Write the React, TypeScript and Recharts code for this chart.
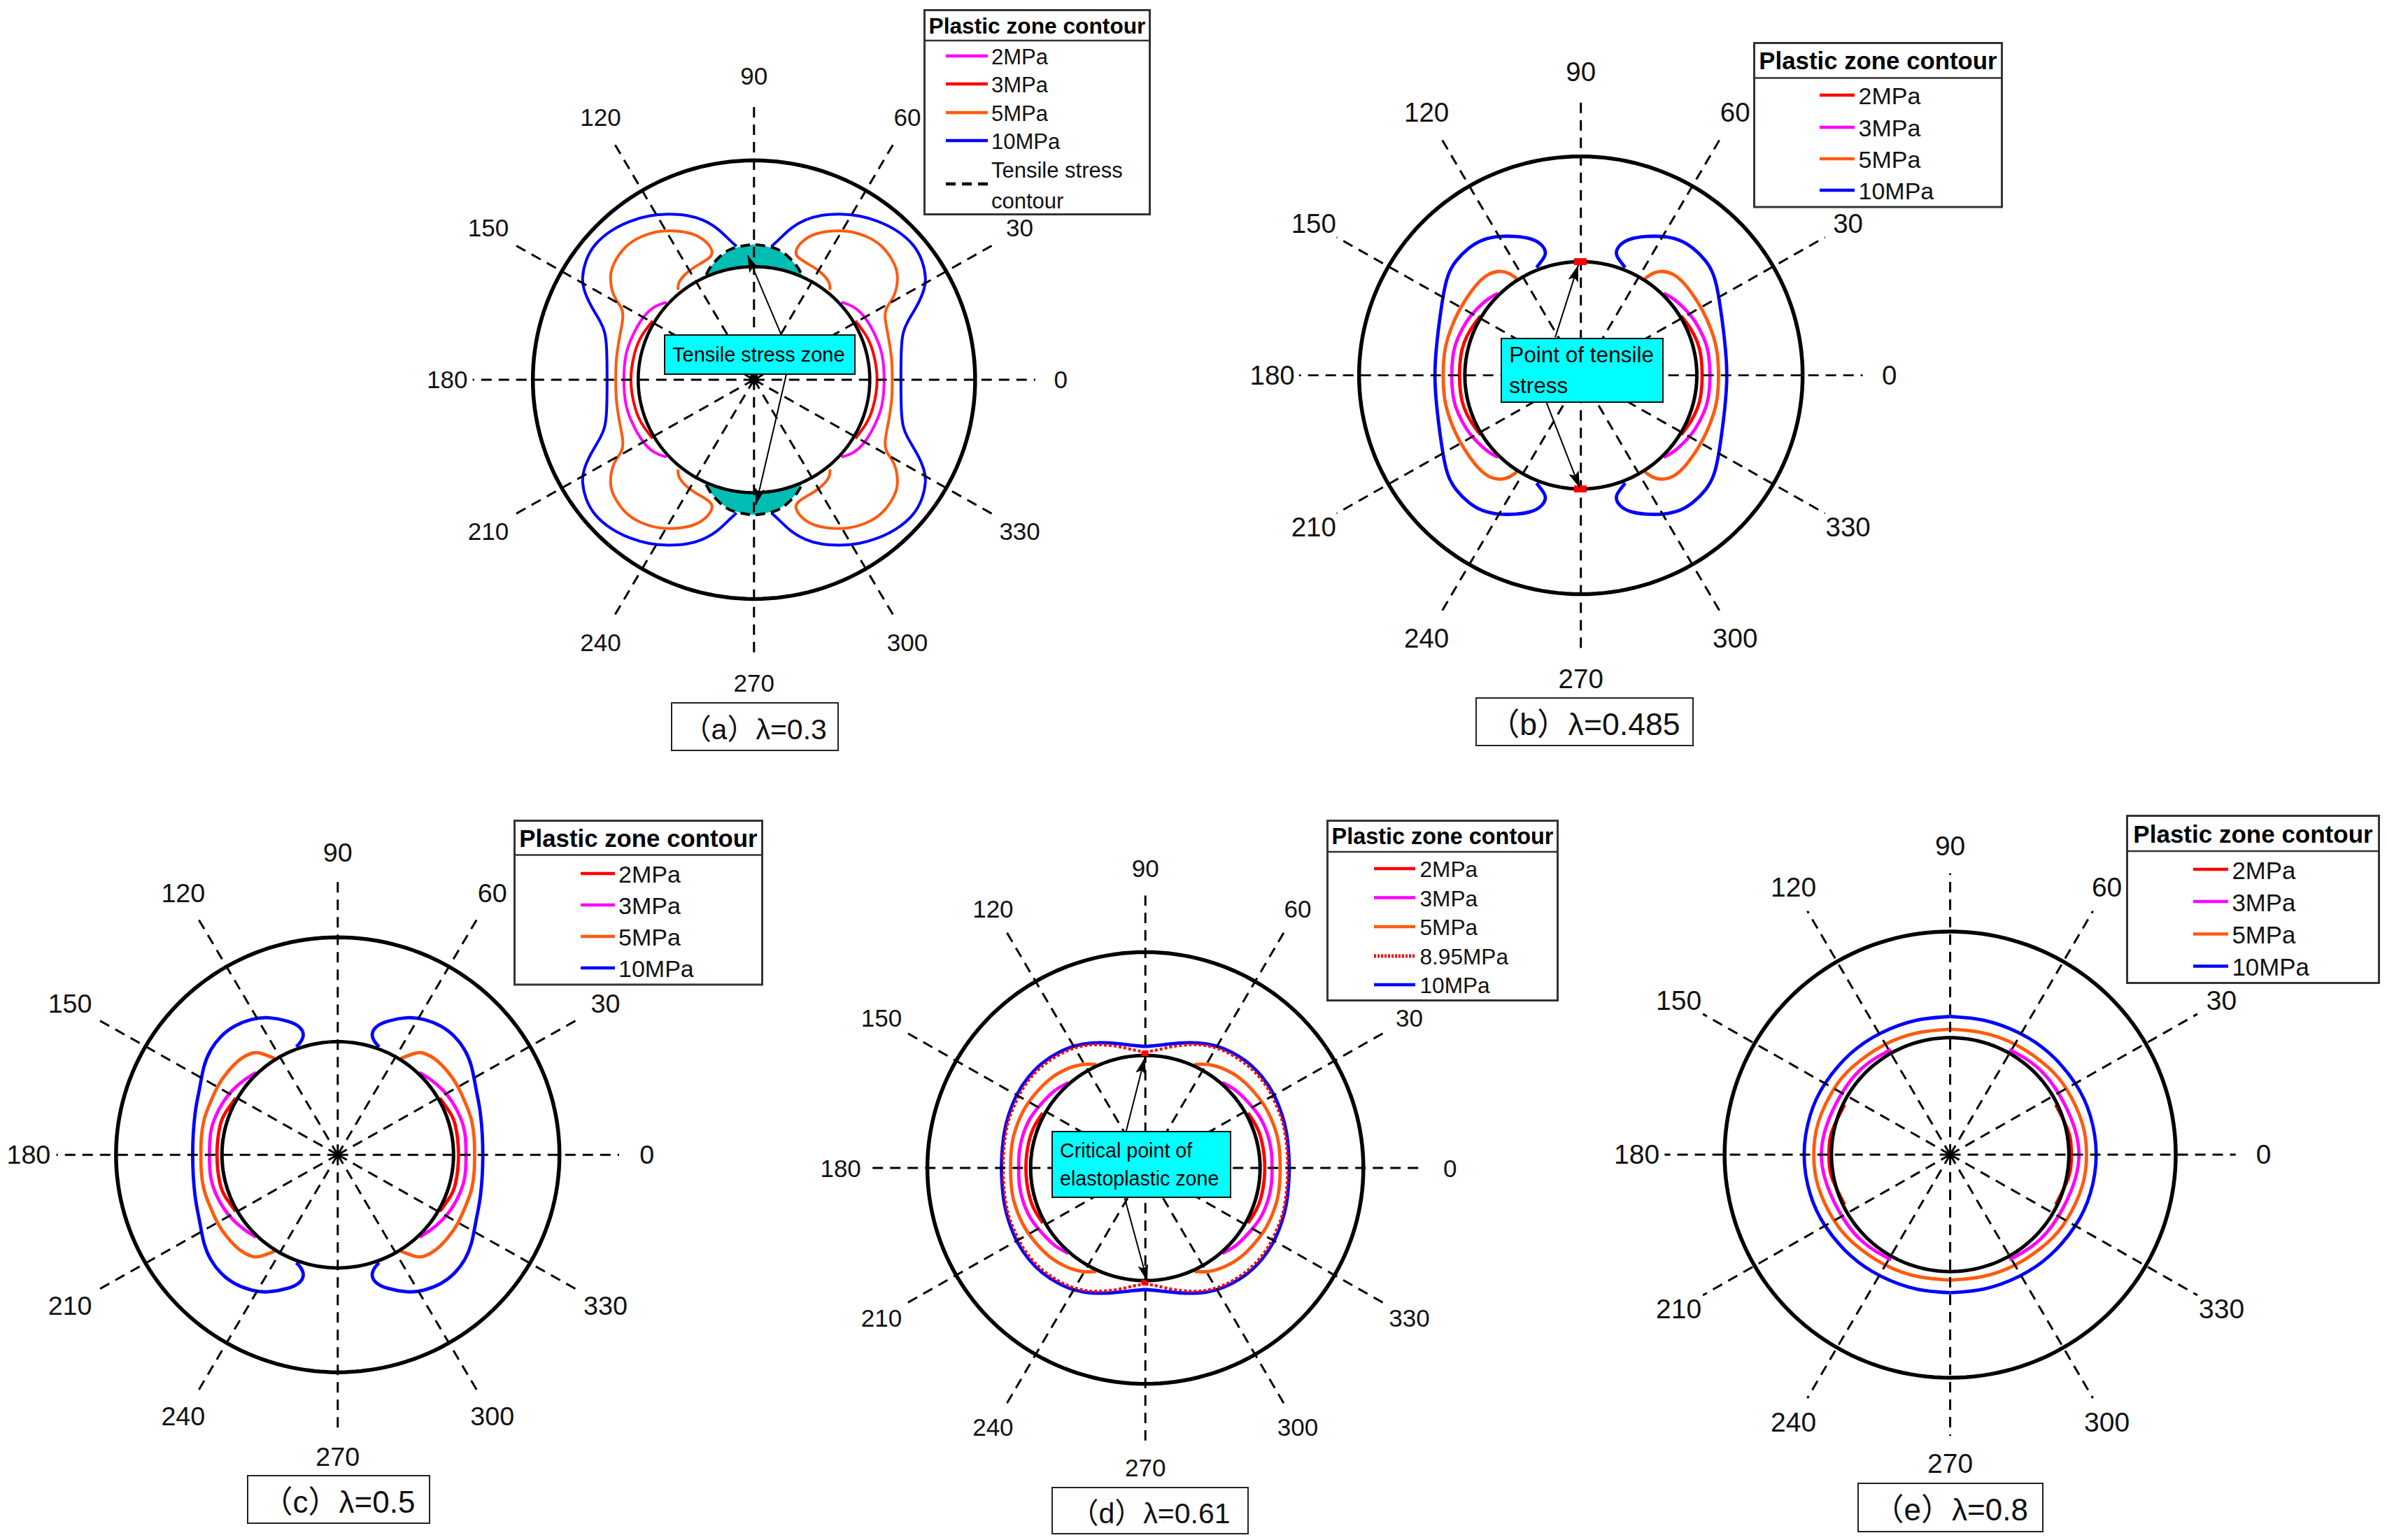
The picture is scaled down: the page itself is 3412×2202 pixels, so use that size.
import React from "react";
import { ScatterChart, Scatter, XAxis, YAxis, Legend } from "recharts";

type P = [number, number];

// Angle ticks of every polar panel
const angleTicks = [0, 30, 60, 90, 120, 150, 180, 210, 240, 270, 300, 330];

// Contours: upper-right quadrant, in multiples of the opening radius
const a2: P[] = [[0.755, 0.685], [0.866, 0.639], [0.967, 0.536], [1.047, 0.392], [1.104, 0.227], [1.124, 0]];
const a3: P[] = [[0.876, 0.52], [0.967, 0.392], [1.027, 0.247], [1.063, 0]];
const a5: P[] = [[0.655, 0.794], [0.645, 0.866], [0.564, 0.959], [0.463, 1.027], [0.383, 1.082], [0.363, 1.134], [0.403, 1.206], [0.504, 1.278], [0.645, 1.313], [0.806, 1.313], [0.967, 1.268], [1.108, 1.175], [1.208, 1.031], [1.239, 0.897], [1.208, 0.742], [1.148, 0.639], [1.134, 0.536], [1.158, 0.392], [1.188, 0.186], [1.194, 0]];
const a10: P[] = [[0.151, 1.179], [0.222, 1.247], [0.322, 1.34], [0.443, 1.412], [0.584, 1.454], [0.745, 1.464], [0.906, 1.449], [1.067, 1.402], [1.229, 1.32], [1.37, 1.196], [1.45, 1.052], [1.48, 0.907], [1.466, 0.794], [1.41, 0.66], [1.329, 0.515], [1.289, 0.412], [1.273, 0.268], [1.269, 0]];
const aTensile: P[] = [[-0.413, 0.928], [-0.373, 1.0], [-0.302, 1.082], [-0.201, 1.155], [-0.081, 1.186], [0, 1.196], [0.081, 1.186], [0.201, 1.155], [0.302, 1.082], [0.373, 1.0], [0.413, 0.928]];

const b2: P[] = [[0.865, 0.523], [0.946, 0.41], [1.006, 0.287], [1.036, 0.164], [1.046, 0]];
const b3: P[] = [[0.714, 0.722], [0.805, 0.667], [0.905, 0.574], [0.986, 0.472], [1.056, 0.338], [1.097, 0.205], [1.113, 0]];
const b5: P[] = [[0.553, 0.851], [0.624, 0.898], [0.708, 0.913], [0.805, 0.882], [0.905, 0.79], [1.006, 0.646], [1.087, 0.492], [1.147, 0.328], [1.177, 0.185], [1.187, 0]];
const b10: P[] = [[0.382, 0.948], [0.332, 1.015], [0.306, 1.077], [0.342, 1.149], [0.433, 1.2], [0.563, 1.221], [0.704, 1.221], [0.845, 1.19], [0.966, 1.118], [1.076, 1.005], [1.147, 0.872], [1.187, 0.697], [1.217, 0.492], [1.241, 0.287], [1.258, 0]];

const c2: P[] = [[0.882, 0.501], [0.967, 0.377], [1.017, 0.254], [1.043, 0]];
const c3: P[] = [[0.705, 0.728], [0.806, 0.662], [0.906, 0.573], [0.987, 0.47], [1.057, 0.336], [1.098, 0.192], [1.108, 0]];
const c5: P[] = [[0.544, 0.852], [0.665, 0.897], [0.745, 0.897], [0.846, 0.841], [0.947, 0.738], [1.037, 0.604], [1.118, 0.419], [1.158, 0.295], [1.178, 0.151], [1.182, 0]];
const c10: P[] = [[0.358, 0.955], [0.322, 0.996], [0.298, 1.062], [0.332, 1.13], [0.433, 1.181], [0.604, 1.212], [0.745, 1.196], [0.886, 1.14], [1.007, 1.047], [1.098, 0.924], [1.158, 0.769], [1.198, 0.563], [1.233, 0.357], [1.253, 0]];

const d2: P[] = [[0.894, 0.489], [0.965, 0.375], [1.016, 0.23], [1.041, 0]];
const d3: P[] = [[0.671, 0.758], [0.793, 0.685], [0.915, 0.561], [1.006, 0.437], [1.067, 0.292], [1.098, 0.147], [1.104, 0]];
const d5: P[] = [[0.427, 0.919], [0.549, 0.919], [0.691, 0.876], [0.833, 0.789], [0.955, 0.665], [1.057, 0.52], [1.128, 0.354], [1.163, 0.209], [1.175, 0]];
const d895: P[] = [[0, 1.031], [0.102, 1.048], [0.244, 1.079], [0.407, 1.095], [0.549, 1.083], [0.691, 1.037], [0.833, 0.954], [0.955, 0.851], [1.067, 0.706], [1.148, 0.54], [1.199, 0.395], [1.23, 0.209], [1.24, 0]];
const d10: P[] = [[0, 1.079], [0.142, 1.093], [0.305, 1.11], [0.467, 1.11], [0.61, 1.085], [0.752, 1.027], [0.894, 0.934], [1.016, 0.81], [1.118, 0.654], [1.189, 0.478], [1.23, 0.313], [1.25, 0.126], [1.254, 0]];

const e2: P[] = [[0.889, 0.427], [1.0, 0.185], [1.021, 0]];
const e3: P[] = [[0.498, 0.899], [0.753, 0.73], [0.966, 0.427], [1.085, 0]];
const e5: P[] = [[0, 1.073], [0.27, 1.043], [0.56, 0.937], [0.82, 0.752], [0.98, 0.56], [1.11, 0.277], [1.149, 0]];
const e10: P[] = [[0, 1.181], [0.285, 1.149], [0.583, 1.04], [0.838, 0.865], [1.051, 0.613], [1.179, 0.337], [1.23, 0]];

// Legend labels
const labelsA = ["2MPa", "3MPa", "5MPa", "10MPa"];
const labelsB = ["2MPa", "3MPa", "5MPa", "10MPa"];
const labelsD = ["2MPa", "3MPa", "5MPa", "8.95MPa", "10MPa"];

// Annotation arrows [from, to]
const arrowsA: [P, P][] = [[[0.232, 0.405], [-0.055, 1.1]], [[0.28, 0.05], [0.017, -1.107]]];
const arrowsB: [P, P][] = [[[-0.221, 0.334], [-0.022, 0.971]], [[-0.296, -0.24], [-0.009, -0.992]]];
const arrowsD: [P, P][] = [[[-0.167, 0.33], [-0.004, 0.981]], [[-0.18, -0.268], [0.017, -1.006]]];
const tensilePointsB: P[] = [[-0.005, 1.0], [-0.005, -1.0]];
const criticalPointsD: P[] = [[-0.005, 1.015], [-0.005, -1.015]];

const BLUE = "#0000ff", RED = "#ff0000", MAG = "#ff00ff", ORG = "#ff5a0f", TEAL = "#00bdb4", CYAN = "#00ffff";
const FONT = '"Liberation Sans", Arial, sans-serif';
const RANGE = 3.05;

const panels = [
  {
    key: "a", cx: 1077.7, cy: 543.3, rx: 165.5, ry: 161.6, outer: [1.91, 1.94], spoke: 2.43, fs: 35, labelR: [2.65, 2.685], lw: 4, innerW: 4.6,
    series: [[a2, MAG], [a3, RED], [a5, ORG], [a10, BLUE]] as [P[], string][],
    legend: { x: 1320, y: 13, w: 325, h: 295, sep: 45, title: 31.7, fs: 31, lx: 32, lw: 60, tx: 97, rows: [67, 107, 148, 188],
      labels: labelsA, colors: [MAG, RED, ORG, BLUE], dashed: { y: 250, lines: ["Tensile stress", "contour"], ys: [230, 274] } },
    caption: { x: 958.5, y: 1003.5, w: 240.5, h: 70, text: "（a）λ=0.3", fs: 41 },
    note: { x: 949, y: 478, w: 274, h: 57.5, lines: ["Tensile stress zone"], fs: 29, lh: 50 },
    arrows: arrowsA, tensile: aTensile,
  },
  {
    key: "b", cx: 2259.7, cy: 537, rx: 165.8, ry: 162.5, outer: [1.912, 1.926], spoke: 2.43, fs: 38.5, labelR: [2.66, 2.67], lw: 4.8, innerW: 5,
    series: [[b2, RED], [b3, MAG], [b5, ORG], [b10, BLUE]] as [P[], string][],
    legend: { x: 2506, y: 59.5, w: 357, h: 237.5, sep: 51.5, title: 34.8, fs: 34, lx: 95, lw: 50, tx: 150.5, rows: [76, 122, 167, 212],
      labels: labelsB, colors: [RED, MAG, ORG, BLUE] },
    caption: { x: 2108.6, y: 996.5, w: 312, h: 70, text: "（b）λ=0.485", fs: 44.6 },
    note: { x: 2145.3, y: 482.7, w: 233.2, h: 93.5, lines: ["Point of tensile", "stress"], fs: 31.5, lh: 44 },
    arrows: arrowsB, points: tensilePointsB, mark: [18, 10],
  },
  {
    key: "c", cx: 483, cy: 1651, rx: 165.5, ry: 161.7, outer: [1.915, 1.923], spoke: 2.43, fs: 37.7, labelR: [2.67, 2.67], lw: 4.8, innerW: 5,
    series: [[c2, RED], [c3, MAG], [c5, ORG], [c10, BLUE]] as [P[], string][],
    legend: { x: 734, y: 1171.6, w: 357, h: 237.4, sep: 50.4, title: 34.8, fs: 34, lx: 96, lw: 49, tx: 150, rows: [77, 122, 167, 212],
      labels: labelsB, colors: [RED, MAG, ORG, BLUE] },
    caption: { x: 353, y: 2109, w: 262, h: 69.5, text: "（c）λ=0.5", fs: 44 },
  },
  {
    key: "d", cx: 1637, cy: 1670.3, rx: 164, ry: 161, outer: [1.9, 1.917], spoke: 2.42, fs: 35, labelR: [2.656, 2.66], lw: 4.8, innerW: 5,
    series: [[d2, RED], [d3, MAG], [d5, ORG], [d10, BLUE]] as [P[], string][],
    dotted: d895,
    legend: { x: 1895.6, y: 1172, w: 332, h: 260, sep: 46, title: 32.4, fs: 31.6, lx: 68, lw: 59, tx: 133.5, rows: [70, 111.6, 153, 195, 236],
      labels: labelsD, colors: [RED, MAG, ORG, "dotted", BLUE] },
    caption: { x: 1503, y: 2126, w: 282, h: 68, text: "（d）λ=0.61", fs: 41 },
    note: { x: 1503, y: 1616.7, w: 257.3, h: 96.8, lines: ["Critical point of", "elastoplastic zone"], fs: 28.6, lh: 40 },
    arrows: arrowsD, points: criticalPointsD, mark: [10, 7],
  },
  {
    key: "e", cx: 2787.5, cy: 1651, rx: 169.7, ry: 167.2, outer: [1.9, 1.908], spoke: 2.405, fs: 39, labelR: [2.64, 2.64], lw: 4.8, innerW: 5,
    series: [[e2, RED], [e3, MAG], [e5, ORG], [e10, BLUE]] as [P[], string][],
    legend: { x: 3039.5, y: 1165.5, w: 363, h: 242, sep: 52, title: 35, fs: 34.8, lx: 96, lw: 50, tx: 151.5, rows: [78, 124, 170.5, 216.5],
      labels: labelsB, colors: [RED, MAG, ORG, BLUE] },
    caption: { x: 2655.4, y: 2120, w: 265.6, h: 70.6, text: "（e）λ=0.8", fs: 44 },
  },
];

const toObj = (pts: P[]) => pts.map(([x, y]) => ({ x, y }));
// Quadrant → full right half and left half (the contours are symmetric about both axes)
const rightHalf = (pts: P[]): P[] => [
  ...pts,
  ...pts.slice(0, -1).reverse().map(([x, y]) => [x, -y] as P),
];
const leftHalf = (pts: P[]): P[] => rightHalf(pts).map(([x, y]) => [-x, y] as P);
const flipY = (pts: P[]): P[] => pts.map(([x, y]) => [x, -y] as P);

const rad = (d: number) => (d * Math.PI) / 180;
const degrees = Array.from({ length: 181 }, (_, i) => i * 2);
const ring = (rX: number, rY: number): P[] => degrees.map((d) => [rX * Math.cos(rad(d)), rY * Math.sin(rad(d))] as P);
// Tensile zone: the dashed contour closed along the opening wall
const wallArc: P[] = Array.from({ length: 25 }, (_, i) => 114 - i * 2).map((d) => [Math.cos(rad(d)), Math.sin(rad(d))] as P);
const zoneFill = (contour: P[]): P[] => [...contour, ...[...wallArc].reverse()];

const NoDot = () => <g />;

function renderContour(key: string, pts: P[], stroke: string, width = 4.2, dash?: string, curve: any = "natural") {
  return (
    <Scatter
      key={key}
      data={toObj(pts)}
      isAnimationActive={false}
      shape={NoDot}
      line={{ stroke, strokeWidth: width, strokeDasharray: dash, fill: "none" }}
      lineType="joint"
      lineJointType={curve}
      legendType="none"
    />
  );
}

function LegendBox({ l }: { l: any }) {
  const border = "#333333";
  return (
    <svg width={l.w} height={l.h} style={{ display: "block", overflow: "visible" }} fontFamily={FONT}>
      <rect x={1.5} y={1.5} width={l.w - 3} height={l.h - 3} fill="#ffffff" stroke={border} strokeWidth={3} />
      <line x1={0} x2={l.w} y1={l.sep} y2={l.sep} stroke={border} strokeWidth={2.5} />
      <text x={l.w / 2} y={l.sep / 2 + 1} fontSize={l.title} fontWeight="bold" textAnchor="middle" dominantBaseline="central" fill="#000">
        Plastic zone contour
      </text>
      {l.labels.map((t: string, i: number) => {
        const c = l.colors[i];
        return (
          <g key={t}>
            <line
              x1={l.lx}
              x2={l.lx + l.lw}
              y1={l.rows[i]}
              y2={l.rows[i]}
              stroke={c === "dotted" ? RED : c}
              strokeWidth={c === "dotted" ? 5 : 4.5}
              strokeDasharray={c === "dotted" ? "3 2" : undefined}
            />
            <text x={l.tx} y={l.rows[i] + 1} fontSize={l.fs} dominantBaseline="central" fill="#111">
              {t}
            </text>
          </g>
        );
      })}
      {l.dashed && (
        <g>
          <line x1={l.lx} x2={l.lx + l.lw} y1={l.dashed.y} y2={l.dashed.y} stroke="#000" strokeWidth={4.5} strokeDasharray="14 9" />
          {l.dashed.lines.map((t: string, i: number) => (
            <text key={t} x={l.tx} y={l.dashed.ys[i]} fontSize={l.fs} dominantBaseline="central" fill="#111">
              {t}
            </text>
          ))}
        </g>
      )}
    </svg>
  );
}

function Panel({ p }: { p: any }) {
  const width = 2 * RANGE * p.rx;
  const height = 2 * RANGE * p.ry;
  const left = p.cx - RANGE * p.rx;
  const top = p.cy - RANGE * p.ry;

  const spokeData: P[][] = angleTicks.map((d) => [
    [0, 0],
    [p.spoke * Math.cos(rad(d)), p.spoke * Math.sin(rad(d))],
  ]);
  const labelData = angleTicks.map((d) => ({
    x: p.labelR[0] * Math.cos(rad(d)),
    y: p.labelR[1] * Math.sin(rad(d)),
    label: String(d),
  }));
  const LabelShape = (s: any) => (
    <text x={s.cx} y={s.cy} fontSize={p.fs} fontFamily={FONT} textAnchor="middle" dominantBaseline="central" fill="#111">
      {s.payload.label}
    </text>
  );
  const HeadShape = (s: any) => (
    <path d="M0 0 L-24 -7.5 L-19 0 L-24 7.5 Z" fill="#000" transform={`translate(${s.cx} ${s.cy}) rotate(${s.payload.angle})`} />
  );
  const RedMark = (s: any) => (
    <rect x={s.cx - p.mark[0] / 2} y={s.cy - p.mark[1] / 2} width={p.mark[0]} height={p.mark[1]} fill={RED} />
  );
  const CenterDot = (s: any) => <circle cx={s.cx} cy={s.cy} r={7} fill="#000" />;

  const arrowHeads = (p.arrows || []).map(([f, t]: [P, P]) => ({
    x: t[0],
    y: t[1],
    angle: (Math.atan2(-(t[1] - f[1]) * p.ry, (t[0] - f[0]) * p.rx) * 180) / Math.PI,
  }));

  return (
    <div style={{ position: "absolute", left, top, width, height }}>
      <ScatterChart width={width} height={height} margin={{ top: 0, right: 0, bottom: 0, left: 0 }}>
        <XAxis type="number" dataKey="x" domain={[-RANGE, RANGE]} hide />
        <YAxis type="number" dataKey="y" domain={[-RANGE, RANGE]} hide />
        <Legend
          layout="vertical"
          align="center"
          verticalAlign="middle"
          wrapperStyle={{ left: p.legend.x - left, top: p.legend.y - top, width: p.legend.w, height: p.legend.h, bottom: "auto", right: "auto", margin: 0 }}
          content={() => <LegendBox l={p.legend} />}
        />
        {p.tensile && (
          <Scatter data={toObj(zoneFill(p.tensile))} isAnimationActive={false} shape={NoDot} lineType="joint" line={{ stroke: "none", fill: TEAL }} legendType="none" />
        )}
        {p.tensile && (
          <Scatter data={toObj(flipY(zoneFill(p.tensile)))} isAnimationActive={false} shape={NoDot} lineType="joint" line={{ stroke: "none", fill: TEAL }} legendType="none" />
        )}
        {p.series.map(([pts, c]: [P[], string], i: number) => [
          renderContour(`r${i}`, rightHalf(pts), c, p.lw),
          renderContour(`l${i}`, leftHalf(pts), c, p.lw),
        ])}
        {p.dotted && renderContour("dr", rightHalf(p.dotted), RED, 4.2, "4 3")}
        {p.dotted && renderContour("dl", leftHalf(p.dotted), RED, 4.2, "4 3")}
        {spokeData.map((s, i) => renderContour(`s${i}`, s, "#000", 3, "15 10", "linear"))}
        {renderContour("outer", ring(p.outer[0], p.outer[1]), "#000", 5.5, undefined, "linear")}
        {renderContour("inner", ring(1, 1), "#000", p.innerW, undefined, "linear")}
        {p.tensile && renderContour("t1", p.tensile, "#000", 4, "14 8")}
        {p.tensile && renderContour("t2", flipY(p.tensile), "#000", 4, "14 8")}
        {p.tensile && <Scatter data={[{ x: 0, y: 0 }]} isAnimationActive={false} shape={CenterDot} legendType="none" />}
        {p.points && <Scatter data={toObj(p.points)} isAnimationActive={false} shape={RedMark} legendType="none" />}
        {(p.arrows || []).map(([f, t]: [P, P], i: number) => renderContour(`ar${i}`, [f, t], "#000", 2, undefined, "linear"))}
        {arrowHeads.length > 0 && <Scatter data={arrowHeads} isAnimationActive={false} shape={HeadShape} legendType="none" />}
        <Scatter data={labelData} isAnimationActive={false} shape={LabelShape} legendType="none" />
      </ScatterChart>
    </div>
  );
}

function Caption({ c }: { c: any }) {
  return (
    <div
      style={{
        position: "absolute", left: c.x, top: c.y, width: c.w, height: c.h, boxSizing: "border-box",
        border: "2.5px solid #222", background: "#fff", display: "flex", alignItems: "center", justifyContent: "center",
        fontFamily: '"Liberation Sans", "Noto Sans CJK SC", sans-serif', fontSize: c.fs, color: "#111", whiteSpace: "nowrap",
      }}
    >
      {c.text}
    </div>
  );
}

function Note({ n }: { n: any }) {
  return (
    <div
      style={{
        position: "absolute", left: n.x, top: n.y, width: n.w, height: n.h, boxSizing: "border-box",
        border: "2.5px solid #111", background: CYAN, display: "flex", flexDirection: "column", justifyContent: "center",
        paddingLeft: 10, fontFamily: FONT, fontSize: n.fs, lineHeight: `${n.lh}px`, color: "#000", whiteSpace: "nowrap",
      }}
    >
      {n.lines.map((t: string) => (
        <div key={t}>{t}</div>
      ))}
    </div>
  );
}

export default function App() {
  return (
    <div style={{ position: "absolute", left: 0, top: 0, width: 3412, height: 2202, background: "#fff", overflow: "hidden" }}>
      {panels.map((p) => (
        <Panel key={p.key} p={p} />
      ))}
      {panels.map((p) => (p.note ? <Note key={`n${p.key}`} n={p.note} /> : null))}
      {panels.map((p) => (
        <Caption key={`c${p.key}`} c={p.caption} />
      ))}
    </div>
  );
}
